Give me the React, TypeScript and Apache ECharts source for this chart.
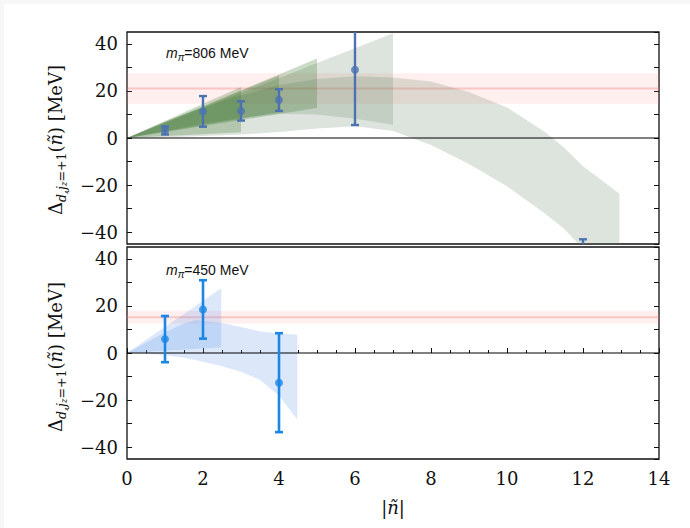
import React, { useEffect, useRef } from "react";
import * as echarts from "echarts";

// ---------- data: m_pi = 806 MeV (top panel) ----------
const pts806X = [1, 2, 3, 4, 6, 12];
const pts806Y = [3.2, 11.3, 11.5, 16.1, 29, -56];
const pts806Err = [1.7, 6.5, 4.1, 4.6, 23.5, 13];

const band806BigX = [0, 1, 2, 3, 4, 5, 6, 7, 8, 9, 10, 11, 11.5, 12, 12.5, 12.96];
const band806BigLo = [0, 0.3, 0.8, 1.5, 2.5, 4, 5, 3, -3, -11, -20.5, -32, -38.5, -47, -52, -56];
const band806BigHi = [0, 7, 13, 18, 22.5, 25, 26.2, 25.7, 24, 19.5, 13, 2.5, -4, -12, -18, -23.7];

const band806W7X = [0, 1, 2, 3, 4, 5, 6, 7];
const band806W7Lo = [0, 3, 6, 8.5, 10.3, 10, 8.2, 5.6];
const band806W7Hi = [0, 6.4, 12.7, 19.1, 25.4, 31.8, 38.1, 44.5];

const band806W5X = [0, 1, 2, 3, 4, 5];
const band806W5Lo = [0, 2.5, 5.1, 7.6, 10.2, 12.7];
const band806W5Hi = [0, 6.8, 13.5, 20.3, 27, 33.8];

const band806W4X = [0, 1, 2, 3, 4];
const band806W4Lo = [0, 2.7, 5.5, 8.2, 11];
const band806W4Hi = [0, 6.6, 13.2, 19.9, 26.5];

const band806W3X = [0, 1, 2, 3];
const band806W3Lo = [0, 0.8, 1.6, 2.4];
const band806W3Hi = [0, 7.2, 14.5, 21.7];

const pink806Center = 21;
const pink806Err = 6.5;

// ---------- data: m_pi = 450 MeV (bottom panel) ----------
const pts450X = [1, 2, 4];
const pts450Y = [5.9, 18.5, -12.6];
const pts450Err = [9.8, 12.4, 21];

const band450AX = [0, 0.83, 1.65, 2.48];
const band450ALo = [0, 0.8, 1.6, 2.4];
const band450AHi = [0, 9.2, 18.3, 27.5];

const band450BX = [0, 0.5, 1, 1.5, 1.8, 2.5, 3, 3.5, 4, 4.48];
const band450BLo = [0, -0.3, -0.8, -2, -3, -5.6, -8, -11.5, -18, -28.2];
const band450BHi = [0, 4.4, 8.8, 12.5, 14, 12.7, 11, 9.2, 8.3, 7.7];

const pink450Center = 15.2;
const pink450Err = 2.7;

// ---------- axes ----------
const xMin = 0;
const xMax = 14;
const xInterval = 2;
const yMin = -45;
const yMax = 45;

const SERIF = "'DejaVu Serif', serif";
const SANS = "'Liberation Sans', sans-serif";

function fmtY(v: number): string {
  if (Math.round(v) % 20 !== 0) return "";
  if (v < 0) return "\u2212" + Math.abs(v);
  return String(v);
}

function bandSeries(g: number, xs: number[], lo: number[], hi: number[], color: string, z: number) {
  return {
    type: "custom",
    xAxisIndex: g,
    yAxisIndex: g * 2,
    clip: true,
    silent: true,
    z,
    data: [[xs[0], lo[0]]],
    renderItem: (_params: any, api: any) => {
      const upper = xs.map((x, i) => api.coord([x, hi[i]]));
      const lower = xs.map((x, i) => api.coord([x, lo[i]])).reverse();
      return {
        type: "polygon",
        shape: { points: upper.concat(lower) },
        style: { fill: color, stroke: "none" },
      };
    },
  };
}

function errSeries(g: number, xs: number[], ys: number[], errs: number[], color: string, lw: number, cap: number) {
  return {
    type: "custom",
    xAxisIndex: g,
    yAxisIndex: g * 2,
    clip: true,
    silent: true,
    z: 8,
    data: xs.map((x, i) => [x, ys[i], errs[i]]),
    renderItem: (_params: any, api: any) => {
      const x = api.value(0);
      const y = api.value(1);
      const e = api.value(2);
      const t = api.coord([x, y + e]);
      const b = api.coord([x, y - e]);
      const st = { stroke: color, lineWidth: lw };
      return {
        type: "group",
        children: [
          { type: "line", shape: { x1: t[0], y1: t[1], x2: b[0], y2: b[1] }, style: st },
          { type: "line", shape: { x1: t[0] - cap, y1: t[1], x2: t[0] + cap, y2: t[1] }, style: st },
          { type: "line", shape: { x1: b[0] - cap, y1: b[1], x2: b[0] + cap, y2: b[1] }, style: st },
        ],
      };
    },
  };
}

function hLine(g: number, y: number, color: string, width: number, z: number) {
  return {
    type: "line",
    xAxisIndex: g,
    yAxisIndex: g * 2,
    data: [[xMin, y], [xMax, y]],
    symbol: "none",
    silent: true,
    lineStyle: { color, width },
    z,
  };
}

const tickLabelStyle = { fontFamily: SERIF, fontSize: 18, color: "#111" };

function yAxes(g: number) {
  const base = {
    type: "value",
    gridIndex: g,
    min: yMin,
    max: yMax,
    splitNumber: 9,
    splitLine: { show: false },
    axisLine: { show: false },
    axisTick: { show: true, inside: true, length: 5, lineStyle: { color: "#111", width: 1 } },
  };
  return [
    {
      ...base,
      position: "left",
      axisLabel: {
        show: true,
        formatter: fmtY,
        ...tickLabelStyle,
        margin: 9,
        showMinLabel: false,
        showMaxLabel: false,
      },
    },
    { ...base, position: "right", axisLabel: { show: false } },
  ];
}

const GREY_GREEN = "rgba(100,132,100,0.22)";
const GREEN = "rgba(58,114,44,0.26)";
const BLUE_BAND = "rgba(95,148,232,0.22)";
const PINK_BAND = "rgba(255,110,110,0.11)";
const PINK_LINE = "rgba(240,120,120,0.35)";
const BLUE_806 = "#4c72b0";
const BLUE_450 = "#1a86e6";

export default function App() {
  const ref = useRef<HTMLDivElement>(null);

  useEffect(() => {
    if (!ref.current) return;
    const chart = echarts.init(ref.current, undefined, { renderer: "svg" });

    const grids = [
      { left: 127, top: 32, width: 532, height: 212 },
      { left: 127, top: 247, width: 532, height: 212 },
    ].map((gr) => ({ ...gr, show: true, borderColor: "#111", borderWidth: 1.3, backgroundColor: "transparent" }));

    const xBase = {
      type: "value",
      min: xMin,
      max: xMax,
      interval: xInterval,
      splitLine: { show: false },
      axisLine: { show: false },
    };

    const yLabelRich = {
      a: { fontFamily: SERIF, fontSize: 18, fill: "#111", lineHeight: 26, verticalAlign: "middle" },
      i: { fontFamily: SERIF, fontStyle: "italic", fontSize: 18, fill: "#111", lineHeight: 26, verticalAlign: "middle" },
      s: { fontFamily: SERIF, fontStyle: "italic", fontSize: 12.5, fill: "#111", lineHeight: 13, verticalAlign: "bottom" },
      u: { fontFamily: SERIF, fontSize: 12.5, fill: "#111", lineHeight: 13, verticalAlign: "bottom" },
      z: { fontFamily: SERIF, fontStyle: "italic", fontSize: 9, fill: "#111", lineHeight: 8, verticalAlign: "bottom" },
    };
    const yLabelText = "{a|\u0394}{s|d,j}{z|z}{u|=+1}{a|(}{i|\u00f1}{a|) [MeV]}";

    const mRich = {
      m: { fontFamily: SANS, fontStyle: "italic", fontSize: 14, fill: "#111", lineHeight: 18, verticalAlign: "middle" },
      p: { fontFamily: SANS, fontStyle: "italic", fontSize: 10, fill: "#111", lineHeight: 10, verticalAlign: "bottom" },
      t: { fontFamily: SANS, fontSize: 14, fill: "#111", lineHeight: 18, verticalAlign: "middle" },
    };

    const option: any = {
      animation: false,
      backgroundColor: "transparent",
      grid: grids,
      xAxis: [
        { ...xBase, gridIndex: 0, axisLabel: { show: false }, axisTick: { show: false }, minorTick: { show: false } },
        {
          ...xBase,
          gridIndex: 1,
          axisLabel: { show: true, ...tickLabelStyle, margin: 10 },
          axisTick: { show: true, inside: true, length: 5, lineStyle: { color: "#111", width: 1 } },
          minorTick: { show: true, splitNumber: 4, length: 3, lineStyle: { color: "#111", width: 1 } },
        },
      ],
      yAxis: [...yAxes(0), ...yAxes(1)],
      series: [
        // top panel
        bandSeries(0, [xMin, xMax], [pink806Center - pink806Err, pink806Center - pink806Err], [pink806Center + pink806Err, pink806Center + pink806Err], PINK_BAND, 1),
        hLine(0, pink806Center, PINK_LINE, 2, 2),
        bandSeries(0, band806BigX, band806BigLo, band806BigHi, GREY_GREEN, 3),
        bandSeries(0, band806W7X, band806W7Lo, band806W7Hi, GREY_GREEN, 3),
        bandSeries(0, band806W5X, band806W5Lo, band806W5Hi, GREEN, 3),
        bandSeries(0, band806W4X, band806W4Lo, band806W4Hi, GREEN, 3),
        bandSeries(0, band806W3X, band806W3Lo, band806W3Hi, GREEN, 3),
        hLine(0, 0, "#000", 1.2, 6),
        errSeries(0, pts806X, pts806Y, pts806Err, BLUE_806, 2.4, 4),
        {
          type: "scatter",
          xAxisIndex: 0,
          yAxisIndex: 0,
          clip: true,
          silent: true,
          symbolSize: 8,
          itemStyle: { color: BLUE_806 },
          data: pts806X.map((x, i) => [x, pts806Y[i]]),
          z: 9,
        },
        // bottom panel
        bandSeries(1, [xMin, xMax], [pink450Center - pink450Err, pink450Center - pink450Err], [pink450Center + pink450Err, pink450Center + pink450Err], PINK_BAND, 1),
        hLine(1, pink450Center, PINK_LINE, 2, 2),
        bandSeries(1, band450BX, band450BLo, band450BHi, BLUE_BAND, 3),
        bandSeries(1, band450AX, band450ALo, band450AHi, BLUE_BAND, 3),
        hLine(1, 0, "#000", 1.2, 6),
        errSeries(1, pts450X, pts450Y, pts450Err, BLUE_450, 2.6, 4),
        {
          type: "scatter",
          xAxisIndex: 1,
          yAxisIndex: 2,
          clip: true,
          silent: true,
          symbolSize: 8,
          itemStyle: { color: BLUE_450 },
          data: pts450X.map((x, i) => [x, pts450Y[i]]),
          z: 9,
        },
      ],
      graphic: [
        {
          type: "text",
          x: 55,
          y: 140,
          rotation: Math.PI / 2,
          style: { text: yLabelText, rich: yLabelRich, align: "center", verticalAlign: "middle" },
        },
        {
          type: "text",
          x: 55,
          y: 357,
          rotation: Math.PI / 2,
          style: { text: yLabelText, rich: yLabelRich, align: "center", verticalAlign: "middle" },
        },
        {
          type: "text",
          x: 166,
          y: 53,
          style: { text: "{m|m}{p|\u03c0}{t|=806 MeV}", rich: mRich, align: "left", verticalAlign: "middle" },
        },
        {
          type: "text",
          x: 166,
          y: 270,
          style: { text: "{m|m}{p|\u03c0}{t|=450 MeV}", rich: mRich, align: "left", verticalAlign: "middle" },
        },
        {
          type: "text",
          x: 393,
          y: 507,
          style: {
            text: "{a||}{i|\u00f1}{a||}",
            rich: {
              a: { fontFamily: SERIF, fontSize: 18, fill: "#111" },
              i: { fontFamily: SERIF, fontStyle: "italic", fontSize: 18, fill: "#111" },
            },
            align: "center",
            verticalAlign: "middle",
          },
        },
      ],
    };

    chart.setOption(option);
    return () => chart.dispose();
  }, []);

  return (
    <div style={{ position: "absolute", left: 0, top: 0, width: 690, height: 528, background: "#f7f7f7" }}>
      <div style={{ position: "absolute", left: 4, top: 4, right: 0, bottom: 0, background: "#ffffff" }} />
      <div ref={ref} style={{ position: "absolute", left: 0, top: 0, width: 690, height: 528 }} />
    </div>
  );
}
